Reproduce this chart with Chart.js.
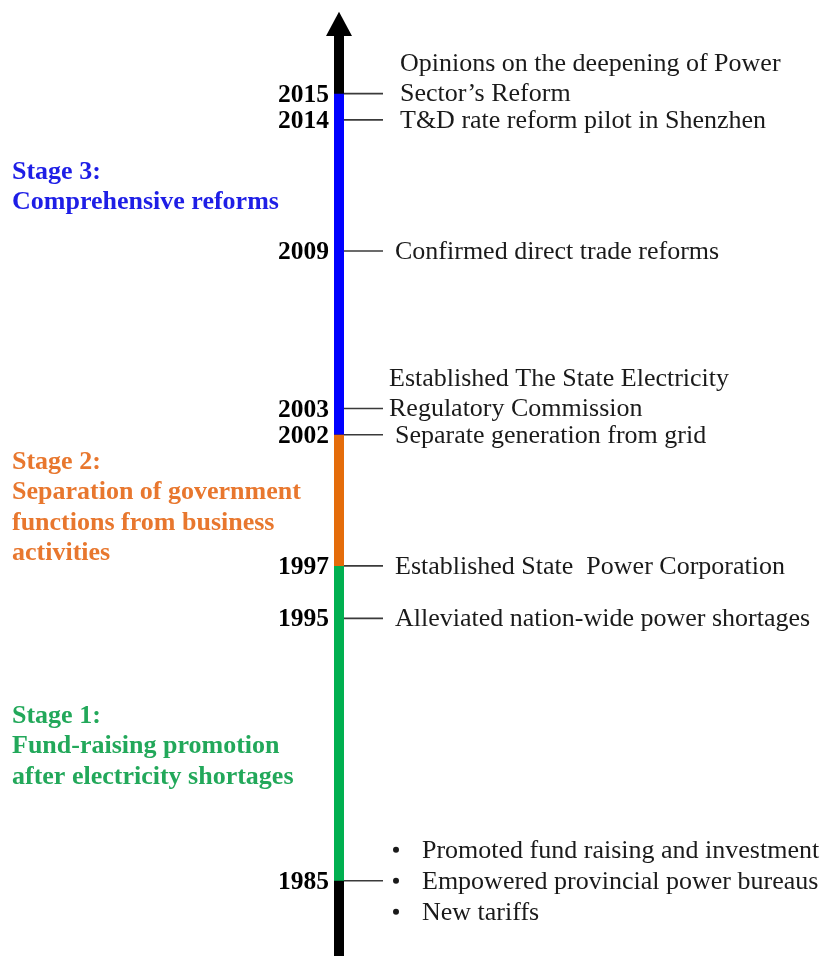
<!DOCTYPE html>
<html>
<head>
<meta charset="utf-8">
<script src="https://cdn.jsdelivr.net/npm/chart.js@4.4.0/dist/chart.umd.min.js"></script>
<style>
html,body{margin:0;padding:0;background:#fff;}
#wrap{width:823px;height:956px;position:relative;}
.pre{position:absolute;left:-9999px;top:0;font-family:"Liberation Serif";}
</style>
</head>
<body>
<span class="pre">Preload <b>Bold</b></span>
<div id="wrap"><canvas id="c" width="823" height="956"></canvas></div>
<script>
// ---- data ----
const eventYears = [1985, 1995, 1997, 2002, 2003, 2009, 2014, 2015];
const eventTexts = [
  ["Promoted fund raising and investment", "Empowered provincial power bureaus", "New tariffs"],
  ["Alleviated nation-wide power shortages"],
  ["Established State  Power Corporation"],
  ["Separate generation from grid"],
  ["Established The State Electricity", "Regulatory Commission"],
  ["Confirmed direct trade reforms"],
  ["T&D rate reform pilot in Shenzhen"],
  ["Opinions on the deepening of Power", "Sector\u2019s Reform"]
];
const eventBulleted = [true, false, false, false, false, false, false, false];
const stageStart = [1985, 1997, 2002];
const stageEnd = [1997, 2002, 2015];
const stageTitles = [
  ["Stage 1:", "Fund-raising promotion", "after electricity shortages"],
  ["Stage 2:", "Separation of government", "functions from business", "activities"],
  ["Stage 3:", "Comprehensive reforms"]
];

// ---- layout / style ----
const AXIS_X = 339;
const Y_MIN = 1982.13, Y_MAX = 2018.57;
const stageLineColors = ['#00B050', '#E46C0A', '#0000FF'];
const stageTextColors = ['#22A85A', '#E8772E', '#1E1EE6'];
const stageLabelYear = [1991.28, 2000.96, 2012.02];
const TICK_FROM = AXIS_X + 5, TICK_TO = AXIS_X + 44;
const FONT = '"Liberation Serif", "Times New Roman", Times, serif';

const datasets = [];
datasets.push({
  data: [{x: AXIS_X, y: Y_MIN}, {x: AXIS_X, y: 2017.3}],
  borderColor: '#000', borderWidth: 10, showLine: true, pointRadius: 0, borderCapStyle: 'butt', order: 10
});
stageStart.forEach((s, i) => {
  datasets.push({
    data: [{x: AXIS_X, y: s}, {x: AXIS_X, y: stageEnd[i]}],
    borderColor: stageLineColors[i], borderWidth: 10, showLine: true, pointRadius: 0, borderCapStyle: 'butt', order: 5
  });
});
eventYears.forEach(yr => {
  datasets.push({
    data: [{x: TICK_FROM, y: yr}, {x: TICK_TO, y: yr}],
    borderColor: '#3a3a3a', borderWidth: 1.6, showLine: true, pointRadius: 0, order: 1
  });
});

const textPlugin = {
  id: 'timelineText',
  afterDatasetsDraw(chart) {
    const ctx = chart.ctx;
    const ys = chart.scales.y;
    // arrow head
    ctx.save();
    ctx.fillStyle = '#000';
    ctx.beginPath();
    ctx.moveTo(AXIS_X, ys.getPixelForValue(2018.12));
    ctx.lineTo(AXIS_X - 13, ys.getPixelForValue(2017.2));
    ctx.lineTo(AXIS_X + 13, ys.getPixelForValue(2017.2));
    ctx.closePath();
    ctx.fill();
    ctx.restore();

    ctx.save();
    ctx.textBaseline = 'middle';
    // year labels
    ctx.fillStyle = '#000';
    ctx.font = 'bold 25.5px ' + FONT;
    ctx.textAlign = 'right';
    eventYears.forEach(yr => {
      ctx.fillText(String(yr), 329, ys.getPixelForValue(yr) + 1.5);
    });
    // event texts
    ctx.fillStyle = '#1a1a1a';
    ctx.font = '26px ' + FONT;
    ctx.textAlign = 'left';
    eventYears.forEach((yr, i) => {
      const lines = eventTexts[i];
      const yc = ys.getPixelForValue(yr);
      if (eventBulleted[i]) {
        const lh = 31;
        lines.forEach((t, j) => {
          const y = yc + (j - (lines.length - 1) / 2) * lh;
          ctx.beginPath();
          ctx.arc(396, y, 3, 0, Math.PI * 2);
          ctx.fill();
          ctx.fillText(t, 422, y + 1);
        });
      } else {
        const lh = 30;
        const x = (yr === 2003) ? 389 : (yr === 2015 || yr === 2014 ? 400 : 395);
        lines.forEach((t, j) => {
          const y = yc + (j - (lines.length - 1)) * lh;
          ctx.fillText(t, x, y + 1);
        });
      }
    });
    // stage titles
    ctx.font = 'bold 26px ' + FONT;
    stageTitles.forEach((lines, i) => {
      ctx.fillStyle = stageTextColors[i];
      const y0 = ys.getPixelForValue(stageLabelYear[i]);
      lines.forEach((t, j) => {
        ctx.fillText(t, 12, y0 + j * 30.5);
      });
    });
    ctx.restore();
  }
};

function build() {
  new Chart(document.getElementById('c'), {
    type: 'scatter',
    data: { datasets },
    options: {
      responsive: false,
      devicePixelRatio: 1,
      animation: false,
      layout: { padding: 0 },
      plugins: { legend: { display: false }, tooltip: { enabled: false } },
      scales: {
        x: { type: 'linear', min: 0, max: 823, display: false },
        y: { type: 'linear', min: Y_MIN, max: Y_MAX, display: false }
      },
      elements: { line: { tension: 0 } }
    },
    plugins: [textPlugin]
  });
}
Promise.all([
  document.fonts.load('26px "Liberation Serif"'),
  document.fonts.load('bold 26px "Liberation Serif"')
]).then(build, build);
</script>
</body>
</html>
